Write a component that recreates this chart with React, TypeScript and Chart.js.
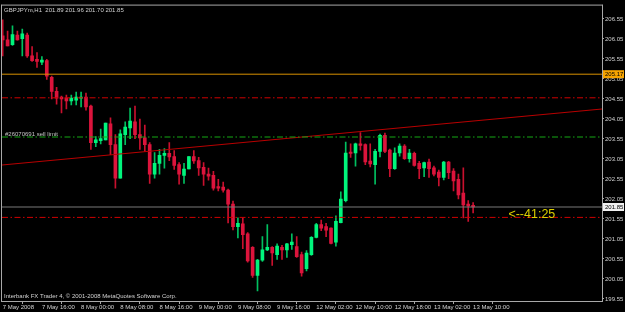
import React, { useEffect, useRef } from "react";
import { Chart, registerables } from "chart.js";

Chart.register(...registerables);

// ---- text ----
const symbolTitle = "GBPJPYm,H1  201.89 201.96 201.70 201.85";
const copyrightText = "Interbank FX Trader 4, \u00a9 2001-2008 MetaQuotes Software Corp.";
const sellLimitLabel = "#26070691 sell limit";
const timerText = "<--41:25";

// ---- axes ----
const timeLabels = [
  "7 May 2008", "7 May 16:00", "8 May 00:00", "8 May 08:00", "8 May 16:00",
  "9 May 00:00", "9 May 08:00", "9 May 16:00", "12 May 02:00", "12 May 10:00",
  "12 May 18:00", "13 May 02:00", "13 May 10:00",
];
const barsPerLabel = 8;
const priceTicks = [
  199.55, 200.05, 200.55, 201.05, 201.55, 202.05, 202.55, 203.05,
  203.55, 204.05, 204.55, 205.05, 205.55, 206.05, 206.55,
];
const priceRange = [199.5, 206.91];
const barRange = [-0.14, 122.3];

// ---- candles (H1) ----
const openP = [
  206.13, 206.03, 205.91, 206.15, 206.06, 206.15, 205.63, 205.54, 205.47, 205.51,
  205.09, 204.74, 204.60, 204.57, 204.50, 204.52, 204.57, 204.60, 204.37, 203.46,
  203.51, 203.53, 203.93, 203.41, 202.57, 203.66, 203.83, 203.98, 203.66, 203.58,
  203.41, 202.67, 202.94, 203.14, 203.19, 203.11, 202.91, 202.64, 202.80, 203.11,
  203.01, 202.84, 202.67, 202.64, 202.36, 202.35, 202.27, 201.92, 201.36, 201.43,
  201.18, 200.84, 200.14, 200.52, 200.78, 200.84, 200.66, 200.84, 200.78, 200.91,
  200.86, 200.66, 200.31, 200.66, 201.09, 201.41, 201.36, 201.32, 200.97, 201.46,
  202.01, 203.22, 203.20, 203.43, 203.41, 203.00, 202.91, 203.24, 203.64, 203.27,
  202.81, 203.20, 203.37, 203.06, 203.19, 202.94, 202.83, 202.97, 202.83, 202.72,
  202.59, 202.97, 202.75, 202.54, 202.20, 201.92, 201.89,
];
const highP = [
  206.53, 206.25, 206.38, 206.25, 206.30, 206.20, 205.86, 205.71, 205.61, 205.54,
  205.12, 204.84, 204.62, 204.65, 204.65, 204.72, 204.72, 204.70, 204.40, 203.61,
  203.80, 203.95, 204.08, 203.66, 203.78, 203.98, 204.32, 204.37, 204.05, 203.90,
  203.46, 203.21, 203.29, 203.31, 203.46, 203.26, 202.96, 202.94, 203.11, 203.26,
  203.09, 202.96, 202.82, 202.74, 202.54, 202.47, 202.30, 202.00, 201.58, 201.58,
  201.21, 200.86, 200.54, 201.11, 201.41, 200.86, 200.93, 200.89, 200.94, 201.18,
  201.11, 200.72, 200.76, 201.11, 201.44, 201.52, 201.44, 201.33, 201.63, 202.23,
  203.47, 203.43, 203.45, 203.71, 203.43, 203.43, 203.29, 203.67, 203.70, 203.30,
  203.33, 203.43, 203.41, 203.29, 203.22, 202.99, 202.97, 203.05, 202.87, 202.77,
  202.99, 202.99, 202.81, 202.67, 202.83, 202.01, 201.96,
];
const lowP = [
  205.63, 205.88, 205.89, 206.02, 205.63, 205.59, 205.49, 205.34, 205.41, 205.04,
  204.55, 204.42, 204.20, 204.30, 204.40, 204.40, 204.35, 204.27, 203.29, 203.36,
  203.43, 203.53, 203.16, 202.32, 202.57, 203.41, 203.56, 203.56, 203.29, 203.24,
  202.44, 202.57, 202.67, 202.82, 203.01, 202.79, 202.42, 202.44, 202.80, 202.94,
  202.64, 202.39, 202.52, 202.27, 202.25, 202.22, 201.45, 201.28, 201.08, 200.81,
  200.47, 200.09, 199.75, 200.49, 200.76, 200.39, 200.54, 200.54, 200.59, 200.79,
  200.59, 200.12, 200.25, 200.64, 201.08, 201.26, 201.11, 200.93, 200.87, 201.45,
  201.98, 203.09, 202.87, 203.27, 202.91, 202.85, 202.42, 203.10, 203.21, 202.61,
  202.79, 203.12, 203.04, 202.97, 202.87, 202.56, 202.61, 202.59, 202.63, 202.38,
  202.53, 202.56, 202.25, 202.05, 201.58, 201.49, 201.70,
];
const closeP = [
  206.03, 205.88, 206.16, 206.03, 206.18, 205.63, 205.51, 205.49, 205.52, 205.12,
  204.74, 204.57, 204.55, 204.50, 204.57, 204.60, 204.60, 204.35, 203.46, 203.53,
  203.56, 203.95, 203.41, 202.57, 203.68, 203.85, 204.00, 203.66, 203.58, 203.41,
  202.67, 202.94, 203.14, 203.19, 203.10, 202.89, 202.67, 202.80, 203.11, 203.00,
  202.83, 202.67, 202.62, 202.32, 202.32, 202.27, 201.92, 201.36, 201.44, 201.16,
  200.50, 200.14, 200.52, 200.78, 200.84, 200.70, 200.87, 200.78, 200.93, 200.97,
  200.61, 200.20, 200.70, 201.09, 201.41, 201.32, 201.27, 200.94, 201.49, 202.05,
  203.20, 203.19, 203.43, 203.39, 202.98, 202.93, 203.24, 203.64, 203.24, 202.81,
  203.20, 203.37, 203.06, 203.20, 202.89, 202.81, 202.96, 202.81, 202.67, 202.59,
  202.97, 202.71, 202.50, 202.15, 201.90, 201.88, 201.85,
];

// ---- chart objects ----
const orangeLevel = 205.17;
const redLevels = [204.58, 201.59];
const sellLimitLevel = 203.6;
const bidLevel = 201.85;
const trendBars = [-0.14, 122.3];
const trendPrices = [202.9, 204.3];
const timerPrice = 201.67;

const FONT = '"Liberation Sans", Arial, sans-serif';
const BULL_BODY = "#00f57c";
const BEAR_BODY = "#dc143c";
const BULL_WICK = "#00c060";
const BEAR_WICK = "#c8102e";

export default function App() {
  const ref = useRef<HTMLCanvasElement>(null);

  useEffect(() => {
    document.body.style.margin = "0";
    const canvas = ref.current;
    if (!canvas) return;

    const isBull = (i: number) => closeP[i] >= openP[i];
    const bodies = openP.map((o, i) => ({ x: i, y: [o, closeP[i]] }));
    const wicks = lowP.map((l, i) => ({ x: i, y: [l, highP[i]] }));
    const hline = (v: number) => [
      { x: barRange[0], y: v },
      { x: barRange[1], y: v },
    ];
    const dashDot = [6, 2.5, 1.5, 2.5];

    const mtPlugin = {
      id: "mtDecor",
      beforeDraw(chart: any) {
        const { ctx, width, height } = chart;
        ctx.save();
        ctx.fillStyle = "#000000";
        ctx.fillRect(0, 0, width, height);
        ctx.restore();
      },
      afterDraw(chart: any) {
        const { ctx, chartArea: a, scales } = chart;
        const ys = scales.y;
        const xs = scales.x;
        ctx.save();
        // frame
        ctx.strokeStyle = "#a8a8a8";
        ctx.lineWidth = 1;
        ctx.beginPath();
        ctx.moveTo(a.left - 0.5, a.top + 0.5);
        ctx.lineTo(a.right + 0.5, a.top + 0.5);
        ctx.moveTo(a.left - 0.5, a.top);
        ctx.lineTo(a.left - 0.5, a.bottom + 1);
        ctx.moveTo(a.right + 0.5, a.top);
        ctx.lineTo(a.right + 0.5, a.bottom + 1);
        ctx.moveTo(a.left - 0.5, a.bottom + 0.5);
        ctx.lineTo(a.right + 0.5, a.bottom + 0.5);
        ctx.stroke();

        ctx.font = `6px ${FONT}`;
        ctx.textBaseline = "alphabetic";
        ctx.textAlign = "left";
        ctx.fillStyle = "#d2d2d2";
        ctx.fillText(symbolTitle, a.left + 2, a.top + 7.5);
        ctx.fillText(copyrightText, a.left + 2, a.bottom - 3);
        ctx.fillStyle = "#c4c4c4";
        ctx.fillText(sellLimitLabel, a.left + 3, ys.getPixelForValue(sellLimitLevel) - 1);

        // price boxes on the axis
        const box = (v: number, bg: string) => {
          const y = ys.getPixelForValue(v);
          ctx.fillStyle = bg;
          ctx.fillRect(a.right + 1, y - 4, 21, 8);
          ctx.fillStyle = "#000000";
          ctx.textBaseline = "middle";
          ctx.fillText(v.toFixed(2), a.right + 3, y + 0.5);
        };
        box(orangeLevel, "#f5a300");
        box(bidLevel, "#f0f0f0");

        // timer text
        ctx.font = `12.5px ${FONT}`;
        ctx.fillStyle = "#dcd000";
        ctx.textBaseline = "middle";
        ctx.fillText(timerText, xs.getPixelForValue(103.2), ys.getPixelForValue(timerPrice));
        ctx.restore();
      },
    };

    const lineDs = (data: any[], color: string, dash: number[] = []) => ({
      type: "line" as const,
      data,
      borderColor: color,
      borderWidth: 1,
      borderDash: dash,
      pointRadius: 0,
      tension: 0,
      order: 0,
    });

    const tickFont = { family: FONT, size: 6 };

    const chart = new Chart(canvas, {
      type: "bar",
      data: {
        datasets: [
          lineDs(hline(orangeLevel), "#d89000"),
          lineDs(hline(redLevels[0]), "#d00000", dashDot),
          lineDs(hline(redLevels[1]), "#d00000", dashDot),
          lineDs(hline(sellLimitLevel), "#14a814", dashDot),
          lineDs(hline(bidLevel), "#787878"),
          lineDs(
            trendBars.map((b, k) => ({ x: b, y: trendPrices[k] })),
            "#b80000"
          ),
          {
            type: "bar" as const,
            data: bodies as any,
            backgroundColor: (c: any) => (isBull(c.dataIndex) ? BULL_BODY : BEAR_BODY),
            borderWidth: 0,
            barThickness: 3,
            minBarLength: 1,
            grouped: false,
            order: 1,
          },
          {
            type: "bar" as const,
            data: wicks as any,
            backgroundColor: (c: any) => (isBull(c.dataIndex) ? BULL_WICK : BEAR_WICK),
            borderWidth: 0,
            barThickness: 1,
            grouped: false,
            order: 2,
          },
        ] as any,
      },
      options: {
        responsive: false,
        animation: false,
        devicePixelRatio: 1,
        events: [],
        layout: { padding: { left: 2, top: 1, right: 0, bottom: 0 } },
        plugins: { legend: { display: false }, tooltip: { enabled: false } },
        scales: {
          x: {
            type: "linear",
            position: "bottom",
            min: barRange[0],
            max: barRange[1],
            offset: false,
            afterFit: (s: any) => {
              s.height = 11;
            },
            afterBuildTicks: (s: any) => {
              s.ticks = timeLabels.map((_, k) => ({ value: k * barsPerLabel }));
            },
            grid: { drawOnChartArea: false, drawTicks: true, tickLength: 3, color: "#a8a8a8" },
            border: { display: false },
            ticks: {
              autoSkip: false,
              maxRotation: 0,
              minRotation: 0,
              align: "start",
              padding: 0,
              color: "#d2d2d2",
              font: tickFont,
              callback: (v: any) => timeLabels[Math.round(Number(v) / barsPerLabel)] ?? "",
            },
          },
          y: {
            type: "linear",
            position: "right",
            min: priceRange[0],
            max: priceRange[1],
            afterFit: (s: any) => {
              s.width = 23;
            },
            afterBuildTicks: (s: any) => {
              s.ticks = priceTicks.map((v) => ({ value: v }));
            },
            grid: { drawOnChartArea: false, drawTicks: true, tickLength: 2, color: "#a8a8a8" },
            border: { display: false },
            ticks: {
              autoSkip: false,
              padding: 1,
              color: "#d2d2d2",
              font: tickFont,
              callback: (v: any) => Number(v).toFixed(2),
            },
          },
        },
      } as any,
      plugins: [mtPlugin],
    });

    return () => chart.destroy();
  }, []);

  return (
    <div style={{ width: 625, height: 312 }}>
      <canvas ref={ref} width={625} height={312} style={{ display: "block" }} />
    </div>
  );
}
